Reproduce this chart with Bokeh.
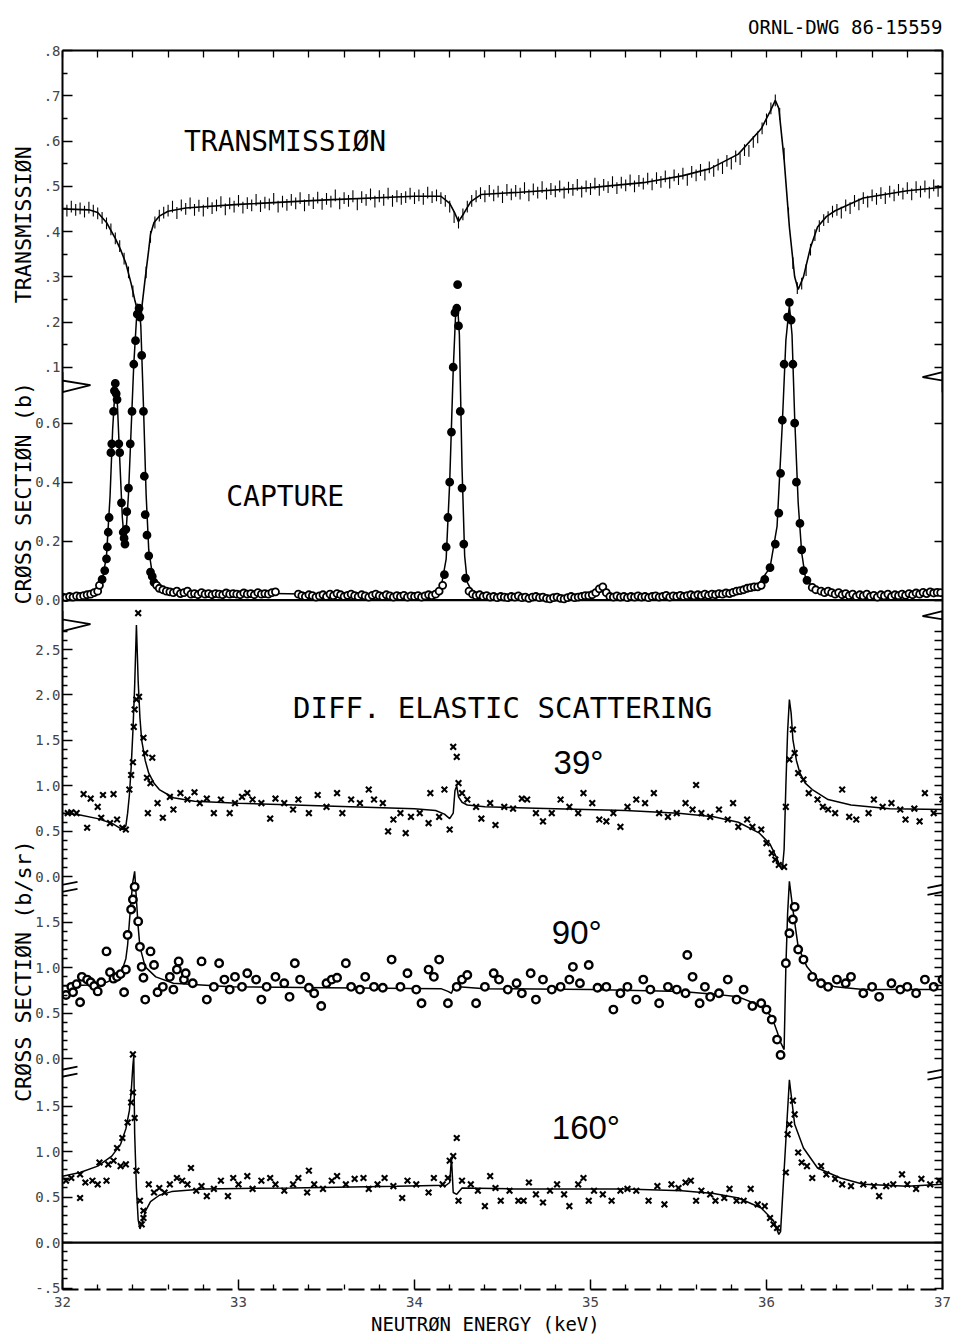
import numpy as np
from bokeh.plotting import figure
from bokeh.models import (Range1d, LinearAxis, FixedTicker, Label, PolyAnnotation, Title)
from bokeh.embed import file_html
from bokeh.resources import INLINE

# ====================== DATA ======================
# Transmission measurement (energy in keV, transmission)
E_T = [
    32.000, 32.025, 32.050, 32.075, 32.100, 32.125, 32.150, 32.175, 32.200, 32.225,
    32.250, 32.275, 32.300, 32.325, 32.350, 32.375, 32.400, 32.425, 32.450, 32.475,
    32.500, 32.525, 32.550, 32.575, 32.600, 32.625, 32.650, 32.675, 32.700, 32.725,
    32.750, 32.775, 32.800, 32.825, 32.850, 32.875, 32.900, 32.925, 32.950, 32.975,
    33.000, 33.025, 33.050, 33.075, 33.100, 33.125, 33.150, 33.175, 33.200, 33.225,
    33.250, 33.275, 33.300, 33.325, 33.350, 33.375, 33.400, 33.425, 33.450, 33.475,
    33.500, 33.525, 33.550, 33.575, 33.600, 33.625, 33.650, 33.675, 33.700, 33.725,
    33.750, 33.775, 33.800, 33.825, 33.850, 33.875, 33.900, 33.925, 33.950, 33.975,
    34.000, 34.025, 34.050, 34.075, 34.100, 34.125, 34.150, 34.175, 34.200, 34.225,
    34.250, 34.275, 34.300, 34.325, 34.350, 34.375, 34.400, 34.425, 34.450, 34.475,
    34.500, 34.525, 34.550, 34.575, 34.600, 34.625, 34.650, 34.675, 34.700, 34.725,
    34.750, 34.775, 34.800, 34.825, 34.850, 34.875, 34.900, 34.925, 34.950, 34.975,
    35.000, 35.025, 35.050, 35.075, 35.100, 35.125, 35.150, 35.175, 35.200, 35.225,
    35.250, 35.275, 35.300, 35.325, 35.350, 35.375, 35.400, 35.425, 35.450, 35.475,
    35.500, 35.525, 35.550, 35.575, 35.600, 35.625, 35.650, 35.675, 35.700, 35.725,
    35.750, 35.775, 35.800, 35.825, 35.850, 35.875, 35.900, 35.925, 35.950, 35.975,
    36.000, 36.025, 36.050, 36.075, 36.100, 36.125, 36.150, 36.175, 36.200, 36.225,
    36.250, 36.275, 36.300, 36.325, 36.350, 36.375, 36.400, 36.425, 36.450, 36.475,
    36.500, 36.525, 36.550, 36.575, 36.600, 36.625, 36.650, 36.675, 36.700, 36.725,
    36.750, 36.775, 36.800, 36.825, 36.850, 36.875, 36.900, 36.925, 36.950, 36.975,
    37.000,
]
T_DATA = [
    .452, .446, .455, .448, .451, .444, .453, .446, .440, .430,
    .418, .405, .385, .368, .340, .310, .268, .228, .222, .310,
    .388, .420, .435, .442, .446, .455, .441, .458, .450, .462,
    .448, .457, .446, .463, .452, .458, .465, .449, .462, .455,
    .468, .453, .463, .458, .470, .456, .464, .460, .472, .455,
    .466, .459, .470, .462, .474, .458, .470, .463, .475, .461,
    .472, .466, .480, .462, .474, .468, .478, .460, .476, .470,
    .482, .466, .478, .470, .484, .468, .478, .472, .476, .484,
    .474, .480, .472, .486, .476, .480, .474, .468, .455, .432,
    .420, .438, .455, .468, .478, .485, .478, .490, .480, .488,
    .476, .492, .482, .490, .484, .496, .480, .493, .486, .498,
    .484, .494, .489, .500, .486, .497, .492, .503, .488, .500,
    .494, .506, .492, .503, .498, .509, .496, .508, .502, .513,
    .500, .512, .506, .517, .504, .518, .510, .522, .508, .524,
    .516, .528, .514, .532, .524, .536, .526, .542, .534, .548,
    .540, .556, .550, .566, .560, .580, .578, .598, .608, .628,
    .648, .672, .690, .660, .572, .440, .330, .275, .285, .315,
    .360, .392, .412, .425, .432, .444, .448, .442, .458, .452,
    .468, .460, .474, .466, .480, .472, .485, .474, .488, .480,
    .492, .484, .496, .482, .498, .488, .500, .486, .502, .490,
    .500,
]
T_ERR = 0.013

T_FIT = [(32.00, .450), (32.15, .448), (32.20, .442), (32.25, .420), (32.30, .385),
         (32.33, .360), (32.36, .330), (32.39, .285), (32.41, .250), (32.43, .220),
         (32.44, .212), (32.45, .230), (32.47, .297), (32.49, .360), (32.50, .394),
         (32.52, .420), (32.55, .434), (32.60, .445), (32.70, .452), (33.00, .460),
         (33.50, .470), (34.00, .478), (34.15, .478), (34.20, .462), (34.23, .440),
         (34.25, .422), (34.28, .440), (34.32, .466), (34.38, .482), (34.60, .487),
         (35.00, .497), (35.30, .508), (35.52, .523), (35.68, .539), (35.84, .571),
         (35.97, .627), (36.02, .665), (36.05, .690), (36.07, .672), (36.10, .560),
         (36.13, .410), (36.16, .300), (36.18, .272), (36.21, .300), (36.25, .365),
         (36.29, .410), (36.34, .433), (36.39, .446), (36.55, .474), (36.80, .490),
         (37.00, .498)]

# Capture cross section (b)
CAP_DATA = [
    (32.00, .010), (32.02, .008), (32.04, .012), (32.06, .010), (32.08, .014), (32.10, .012),
    (32.12, .015), (32.14, .018), (32.16, .020), (32.18, .025), (32.20, .030), (32.21, .050),
    (32.225, .070), (32.24, .100), (32.25, .140), (32.255, .180), (32.26, .230), (32.265, .280),
    (32.275, .500), (32.28, .530), (32.29, .640), (32.295, .710), (32.30, .735), (32.305, .700),
    (32.31, .680), (32.32, .530), (32.325, .500), (32.335, .330), (32.345, .230), (32.35, .210),
    (32.355, .190), (32.36, .240), (32.365, .300), (32.375, .380), (32.385, .530), (32.395, .640),
    (32.405, .800), (32.415, .880), (32.425, .970), (32.435, .990), (32.44, .960), (32.45, .830),
    (32.46, .640), (32.465, .420), (32.47, .290), (32.48, .220), (32.49, .150), (32.50, .095),
    (32.51, .080), (32.52, .060), (32.535, .050), (32.55, .040), (32.57, .035), (32.59, .030),
    (32.61, .028), (32.63, .025), (32.65, .030), (32.67, .022), (32.69, .025), (32.71, .030),
    (32.73, .020), (32.75, .022), (32.77, .018), (32.79, .025), (32.81, .020), (32.83, .022),
    (32.85, .018), (32.87, .022), (32.89, .020), (32.91, .018), (32.93, .024), (32.95, .020),
    (32.97, .022), (32.99, .020), (33.01, .018), (33.03, .024), (33.05, .020), (33.07, .022),
    (33.09, .018), (33.11, .025), (33.13, .020), (33.15, .022), (33.17, .020), (33.19, .025),
    (33.21, .028),
    (33.34, .020), (33.36, .015), (33.38, .012), (33.40, .018), (33.42, .015), (33.44, .010),
    (33.46, .014), (33.48, .018), (33.50, .012), (33.52, .020), (33.54, .015), (33.56, .022),
    (33.58, .018), (33.60, .012), (33.62, .016), (33.64, .020), (33.66, .015), (33.68, .012),
    (33.70, .018), (33.72, .014), (33.74, .010), (33.76, .016), (33.78, .020), (33.80, .015),
    (33.82, .012), (33.84, .018), (33.86, .014), (33.88, .010), (33.90, .015), (33.92, .012),
    (33.94, .016), (33.96, .010), (33.98, .014), (34.00, .012), (34.02, .015), (34.04, .010),
    (34.06, .014), (34.08, .018), (34.10, .015), (34.12, .020), (34.14, .030), (34.16, .050),
    (34.17, .086), (34.18, .180), (34.19, .280), (34.20, .400), (34.21, .570), (34.22, .790),
    (34.23, .975), (34.24, .990), (34.245, 1.070), (34.25, .930), (34.26, .640), (34.27, .380),
    (34.28, .190), (34.29, .074), (34.31, .030), (34.33, .020), (34.35, .015), (34.37, .018),
    (34.39, .012), (34.41, .015), (34.43, .010), (34.45, .012), (34.47, .008), (34.49, .012),
    (34.51, .010), (34.53, .008), (34.55, .012), (34.57, .010), (34.59, .014), (34.61, .008),
    (34.63, .010), (34.65, .006), (34.67, .010), (34.69, .012), (34.71, .008), (34.73, .010),
    (34.75, .006), (34.77, .004), (34.79, .008), (34.81, .010), (34.83, .006), (34.85, .004),
    (34.87, .008), (34.89, .012), (34.91, .008), (34.93, .010), (34.95, .012), (34.97, .015),
    (34.99, .015), (35.01, .018), (35.03, .025), (35.05, .038), (35.07, .045), (35.09, .025),
    (35.11, .012), (35.13, .010), (35.15, .014), (35.17, .010), (35.19, .012), (35.21, .008),
    (35.23, .012), (35.25, .010), (35.27, .014), (35.29, .010), (35.31, .012), (35.33, .008),
    (35.35, .012), (35.37, .014), (35.39, .010), (35.41, .012), (35.43, .016), (35.45, .010),
    (35.47, .014), (35.49, .012), (35.51, .016), (35.53, .012), (35.55, .015), (35.57, .018),
    (35.59, .014), (35.61, .018), (35.63, .015), (35.65, .020), (35.67, .016), (35.69, .020),
    (35.71, .018), (35.73, .022), (35.75, .020), (35.77, .024), (35.79, .022), (35.81, .026),
    (35.83, .030), (35.85, .032), (35.87, .035), (35.89, .040), (35.91, .042), (35.93, .045),
    (35.95, .045), (35.97, .050), (35.99, .070), (36.02, .110), (36.05, .190), (36.07, .295),
    (36.08, .430), (36.09, .610), (36.10, .800), (36.12, .960), (36.13, 1.010), (36.14, .950),
    (36.15, .800), (36.16, .600), (36.17, .400), (36.19, .260), (36.20, .170), (36.21, .100),
    (36.23, .067), (36.26, .043), (36.28, .035), (36.31, .030), (36.33, .025), (36.35, .030),
    (36.37, .025), (36.39, .020), (36.41, .025), (36.43, .018), (36.45, .022), (36.47, .015),
    (36.49, .020), (36.51, .012), (36.53, .018), (36.55, .014), (36.57, .020), (36.59, .012),
    (36.61, .016), (36.63, .010), (36.65, .018), (36.67, .014), (36.69, .020), (36.71, .012),
    (36.73, .018), (36.75, .015), (36.77, .020), (36.79, .016), (36.81, .022), (36.83, .018),
    (36.85, .024), (36.87, .020), (36.89, .026), (36.91, .022), (36.93, .028), (36.95, .024),
    (36.97, .026), (36.99, .025),
]
CAP_FIT = [(32.00, .010), (32.10, .012), (32.16, .020), (32.20, .030), (32.23, .080),
           (32.25, .150), (32.27, .350), (32.285, .580), (32.30, .730), (32.31, .690),
           (32.325, .480), (32.34, .280), (32.35, .210), (32.36, .220), (32.375, .360),
           (32.39, .580), (32.405, .800), (32.42, .950), (32.435, 1.000), (32.445, .930),
           (32.46, .660), (32.475, .360), (32.49, .170), (32.51, .090), (32.54, .050),
           (32.60, .032), (32.80, .024), (33.20, .022), (33.60, .018), (34.00, .015),
           (34.10, .020), (34.15, .040), (34.18, .140), (34.20, .400), (34.22, .780),
           (34.235, .990), (34.245, 1.000), (34.255, .900), (34.27, .450), (34.285, .150),
           (34.30, .060), (34.33, .025), (34.40, .015), (34.90, .010), (35.00, .015),
           (35.04, .030), (35.07, .045), (35.09, .030), (35.11, .014), (35.50, .014),
           (35.80, .025), (35.95, .050), (36.02, .110), (36.06, .250), (36.09, .600),
           (36.11, .880), (36.13, 1.000), (36.145, .900), (36.16, .620), (36.18, .330),
           (36.20, .160), (36.22, .080), (36.26, .043), (36.32, .030), (36.60, .020),
           (37.00, .022)]

# Differential elastic scattering (b/sr), 39 degrees
S39_DATA = [
    (32.03, .70), (32.05, .71), (32.08, .70), (32.12, .91), (32.14, .54), (32.16, .86),
    (32.20, .77), (32.22, .65), (32.23, .90), (32.27, .59), (32.29, .91), (32.31, .63),
    (32.34, .54), (32.36, .52), (32.38, .96), (32.39, 1.12), (32.40, 1.26), (32.405, 1.65),
    (32.41, 1.84), (32.42, 1.95), (32.43, 2.90), (32.435, 1.98), (32.46, 1.53), (32.47, 1.36),
    (32.48, 1.09), (32.485, .70), (32.50, 1.03), (32.51, 1.31), (32.54, .81), (32.57, .65),
    (32.61, .88), (32.63, .74), (32.67, .92), (32.71, .85), (32.75, .93), (32.78, .81),
    (32.82, .86), (32.86, .70), (32.90, .85), (32.95, .70), (32.98, .81), (33.02, .88),
    (33.05, .92), (33.08, .85), (33.13, .81), (33.18, .64), (33.21, .86), (33.26, .81),
    (33.31, .74), (33.34, .85), (33.40, .70), (33.45, .90), (33.50, .77), (33.56, .92),
    (33.59, .70), (33.64, .85), (33.69, .81), (33.74, .96), (33.77, .85), (33.82, .81),
    (33.85, .50), (33.88, .63), (33.92, .70), (33.95, .48), (33.98, .66), (34.03, .70),
    (34.08, .59), (34.09, .92), (34.14, .66), (34.17, .96), (34.20, .52), (34.22, 1.43),
    (34.24, 1.32), (34.25, 1.03), (34.27, .92), (34.30, .85), (34.35, .77), (34.38, .64),
    (34.43, .81), (34.46, .57), (34.51, .77), (34.56, .75), (34.61, .86), (34.64, .85),
    (34.69, .70), (34.73, .61), (34.78, .70), (34.83, .85), (34.88, .77), (34.93, .70),
    (34.96, .92), (35.01, .81), (35.05, .63), (35.09, .61), (35.13, .70), (35.17, .55),
    (35.21, .77), (35.26, .85), (35.31, .81), (35.36, .92), (35.39, .70), (35.44, .66),
    (35.49, .70), (35.54, .81), (35.58, .74), (35.60, 1.01), (35.63, .70), (35.68, .66),
    (35.73, .74), (35.78, .63), (35.81, .81), (35.84, .55), (35.89, .63), (35.92, .55),
    (35.97, .52), (36.00, .37), (36.03, .26), (36.05, .19), (36.07, .13), (36.10, .11),
    (36.11, .77), (36.13, 1.29), (36.15, 1.62), (36.16, 1.36), (36.18, 1.14), (36.21, 1.07),
    (36.24, .92), (36.29, .85), (36.32, .77), (36.35, .74), (36.39, .70), (36.43, .96),
    (36.47, .66), (36.51, .63), (36.58, .70), (36.61, .85), (36.66, .77), (36.71, .81),
    (36.76, .74), (36.79, .63), (36.84, .75), (36.87, .61), (36.90, .92), (36.95, .70),
    (37.00, .85),
]
S39_FIT = [(32.00, .70), (32.10, .68), (32.20, .64), (32.28, .59), (32.34, .52), (32.36, .56),
           (32.37, .70), (32.38, .90), (32.39, 1.20), (32.40, 1.60), (32.41, 2.10), (32.42, 2.77),
           (32.43, 2.15), (32.44, 1.75), (32.45, 1.50), (32.47, 1.28), (32.49, 1.14), (32.52, 1.03),
           (32.55, .96), (32.63, .87), (32.75, .83), (33.00, .81), (33.50, .78), (34.00, .75),
           (34.12, .73), (34.17, .69), (34.20, .64), (34.22, .70), (34.23, .95), (34.24, 1.00),
           (34.25, .88), (34.27, .82), (34.30, .79), (34.40, .77), (34.80, .75), (35.20, .73),
           (35.50, .70), (35.70, .66), (35.84, .60), (35.96, .48), (36.02, .36), (36.06, .20),
           (36.08, .10), (36.09, .08), (36.10, .30), (36.11, 1.00), (36.12, 1.60), (36.13, 1.95),
           (36.14, 1.80), (36.15, 1.51), (36.17, 1.28), (36.19, 1.14), (36.22, 1.03), (36.26, .96),
           (36.35, .85), (36.48, .79), (36.70, .75), (37.00, .74)]

# 90 degrees
S90_DATA = [
    (32.02, .70), (32.05, .79), (32.06, .73), (32.08, .82), (32.10, .62), (32.11, .90),
    (32.14, .87), (32.16, .84), (32.18, .80), (32.20, .74), (32.22, .84), (32.25, 1.18),
    (32.27, .95), (32.29, .88), (32.31, .90), (32.33, .93), (32.35, .73), (32.36, .98),
    (32.37, 1.36), (32.39, 1.64), (32.40, 1.75), (32.41, 1.89), (32.43, 1.51), (32.44, 1.23),
    (32.45, 1.01), (32.46, .89), (32.47, .65), (32.50, 1.18), (32.52, 1.03), (32.54, .73),
    (32.57, .79), (32.61, .90), (32.63, .76), (32.65, .98), (32.66, 1.07), (32.69, .87),
    (32.70, .94), (32.74, .83), (32.79, 1.07), (32.82, .65), (32.86, .79), (32.89, 1.05),
    (32.92, .87), (32.95, .76), (32.98, .90), (33.02, .79), (33.05, .94), (33.10, .87),
    (33.13, .65), (33.16, .79), (33.21, .90), (33.26, .83), (33.29, .68), (33.32, 1.05),
    (33.35, .87), (33.40, .78), (33.43, .72), (33.47, .58), (33.50, .83), (33.53, .87),
    (33.56, .89), (33.61, 1.05), (33.64, .79), (33.69, .76), (33.72, .90), (33.77, .79),
    (33.82, .78), (33.87, 1.09), (33.92, .79), (33.96, .94), (34.01, .76), (34.04, .61),
    (34.08, .98), (34.11, .90), (34.14, 1.09), (34.19, .61), (34.24, .79), (34.27, .87),
    (34.30, .92), (34.35, .61), (34.40, .79), (34.45, .94), (34.48, .87), (34.53, .76),
    (34.58, .83), (34.61, .72), (34.66, .94), (34.69, .65), (34.73, .87), (34.78, .76),
    (34.83, .79), (34.88, .87), (34.90, 1.01), (34.94, .83), (34.99, 1.03), (35.04, .78),
    (35.09, .79), (35.13, .54), (35.17, .72), (35.21, .79), (35.26, .65), (35.30, .87),
    (35.34, .76), (35.39, .61), (35.44, .79), (35.49, .76), (35.54, .72), (35.55, 1.14),
    (35.58, .90), (35.62, .61), (35.65, .79), (35.68, .68), (35.73, .72), (35.78, .87),
    (35.83, .65), (35.87, .76), (35.92, .58), (35.97, .61), (36.00, .54), (36.03, .43),
    (36.06, .21), (36.08, .04), (36.11, 1.05), (36.13, 1.38), (36.15, 1.53), (36.16, 1.67),
    (36.18, 1.20), (36.21, 1.09), (36.26, .90), (36.31, .83), (36.35, .79), (36.40, .87),
    (36.45, .83), (36.48, .90), (36.55, .72), (36.60, .79), (36.64, .68), (36.71, .83),
    (36.76, .76), (36.80, .79), (36.85, .72), (36.90, .87), (36.95, .79), (37.00, .87),
]
S90_FIT = [(32.00, .80), (32.15, .81), (32.25, .84), (32.31, .90), (32.34, .98), (32.36, 1.10),
           (32.37, 1.25), (32.38, 1.50), (32.39, 1.75), (32.40, 1.95), (32.41, 2.06), (32.42, 1.75),
           (32.43, 1.45), (32.44, 1.23), (32.47, 1.01), (32.53, .90), (32.63, .83), (32.95, .79),
           (33.50, .78), (34.15, .77), (34.19, .74), (34.21, .72), (34.23, .82), (34.25, .79),
           (34.40, .77), (35.00, .76), (35.52, .74), (35.70, .71), (35.84, .68), (35.97, .58),
           (36.03, .46), (36.06, .30), (36.08, .18), (36.10, .10), (36.11, 1.01), (36.12, 1.60),
           (36.13, 1.95), (36.15, 1.64), (36.18, 1.23), (36.23, 1.01), (36.29, .87), (36.39, .79),
           (36.55, .76), (37.00, .76)]

# 160 degrees
S160_DATA = [
    (32.02, .68), (32.05, .71), (32.10, .75), (32.10, .49), (32.13, .66), (32.17, .68),
    (32.20, .64), (32.21, .88), (32.25, .68), (32.26, .86), (32.29, .90), (32.31, 1.04),
    (32.33, .84), (32.34, 1.15), (32.36, .86), (32.37, 1.32), (32.39, 1.54), (32.40, 1.65),
    (32.41, 1.37), (32.40, 2.07), (32.42, .79), (32.44, .46), (32.45, .20), (32.46, .35),
    (32.46, .27), (32.49, .64), (32.52, .55), (32.55, .60), (32.58, .55), (32.61, .64),
    (32.65, .71), (32.68, .68), (32.71, .64), (32.73, .82), (32.76, .57), (32.79, .62),
    (32.82, .51), (32.86, .59), (32.90, .68), (32.94, .51), (32.97, .71), (33.00, .64),
    (33.05, .73), (33.08, .59), (33.13, .68), (33.18, .71), (33.21, .64), (33.26, .57),
    (33.31, .64), (33.34, .71), (33.39, .55), (33.40, .79), (33.43, .64), (33.48, .59),
    (33.53, .68), (33.56, .73), (33.61, .64), (33.66, .70), (33.71, .71), (33.74, .59),
    (33.79, .64), (33.83, .71), (33.88, .62), (33.93, .49), (33.96, .68), (34.01, .64),
    (34.08, .55), (34.11, .71), (34.16, .64), (34.19, .71), (34.20, .90), (34.22, .95),
    (34.24, 1.15), (34.25, .46), (34.27, .68), (34.32, .64), (34.36, .57), (34.40, .40),
    (34.43, .73), (34.46, .60), (34.49, .46), (34.54, .57), (34.59, .46), (34.62, .46),
    (34.65, .66), (34.69, .53), (34.73, .44), (34.77, .57), (34.81, .64), (34.85, .53),
    (34.88, .40), (34.93, .64), (34.96, .71), (34.99, .46), (35.02, .57), (35.07, .53),
    (35.12, .46), (35.17, .57), (35.21, .59), (35.26, .57), (35.33, .46), (35.38, .62),
    (35.42, .42), (35.46, .64), (35.50, .60), (35.54, .66), (35.57, .68), (35.60, .46),
    (35.63, .57), (35.68, .53), (35.71, .46), (35.76, .49), (35.79, .59), (35.83, .46),
    (35.87, .46), (35.91, .59), (35.95, .42), (35.99, .40), (36.02, .27), (36.04, .20),
    (36.06, .16), (36.11, .77), (36.12, 1.19), (36.13, 1.30), (36.15, 1.56), (36.16, 1.41),
    (36.18, .99), (36.20, .88), (36.23, .84), (36.26, .71), (36.31, .84), (36.34, .75),
    (36.39, .70), (36.43, .64), (36.48, .62), (36.55, .64), (36.61, .62), (36.64, .51),
    (36.68, .62), (36.72, .64), (36.77, .75), (36.80, .64), (36.85, .59), (36.88, .70),
    (36.93, .64), (36.98, .68),
]
S160_FIT = [(32.00, .73), (32.10, .77), (32.20, .84), (32.28, .95), (32.33, 1.08), (32.36, 1.25),
            (32.38, 1.45), (32.39, 1.65), (32.40, 1.95), (32.405, 2.05), (32.41, 1.20), (32.42, .60),
            (32.43, .25), (32.44, .15), (32.45, .20), (32.47, .34), (32.50, .45), (32.55, .52),
            (32.62, .56), (32.80, .59), (33.30, .60), (33.90, .62), (34.18, .63), (34.20, .66),
            (34.21, .93), (34.22, .55), (34.24, .53), (34.27, .60), (34.56, .59), (35.20, .59),
            (35.52, .57), (35.70, .54), (35.84, .49), (35.97, .38), (36.04, .24), (36.07, .09),
            (36.08, .12), (36.10, .79), (36.13, 1.79), (36.16, 1.30), (36.21, 1.04), (36.29, .82),
            (36.42, .71), (36.55, .64), (36.80, .62), (37.00, .64)]

ZERO_E = [32.0, 37.0]
ZERO_V = [0.0, 0.0]

# ---- tick values / labels ----
X_TICKS = [32, 33, 34, 35, 36, 37]
X_MINOR = [32.2, 32.4, 32.6, 32.8, 33.2, 33.4, 33.6, 33.8, 34.2, 34.4, 34.6, 34.8,
           35.2, 35.4, 35.6, 35.8, 36.2, 36.4, 36.6, 36.8]
T_TICKS = [0.1, 0.2, 0.3, 0.4, 0.5, 0.6, 0.7, 0.8]
T_LABELS = [".1", ".2", ".3", ".4", ".5", ".6", ".7", ".8"]
T_MINOR = [0.15, 0.25, 0.35, 0.45, 0.55, 0.65, 0.75]
CAP_TICKS = [0.0, 0.2, 0.4, 0.6]
CAP_LABELS = ["0.0", "0.2", "0.4", "0.6"]
CAP_MINOR = []
S39_TICKS = [0.0, 0.5, 1.0, 1.5, 2.0, 2.5]
S39_LABELS = ["0.0", "0.5", "1.0", "1.5", "2.0", "2.5"]
S39_MINOR = [0.1, 0.2, 0.3, 0.4, 0.6, 0.7, 0.8, 0.9, 1.1, 1.2, 1.3, 1.4, 1.6, 1.7, 1.8, 1.9,
             2.1, 2.2, 2.3, 2.4, 2.6, 2.7]
S90_TICKS = [0.0, 0.5, 1.0, 1.5]
S90_LABELS = ["0.0", "0.5", "1.0", "1.5"]
S90_MINOR = [0.1, 0.2, 0.3, 0.4, 0.6, 0.7, 0.8, 0.9, 1.1, 1.2, 1.3, 1.4, 1.6, 1.7, 1.8]
S160_TICKS = [-0.5, 0.0, 0.5, 1.0, 1.5]
S160_LABELS = ["-.5", "0.0", "0.5", "1.0", "1.5"]
S160_MINOR = [-0.4, -0.3, -0.2, -0.1, 0.1, 0.2, 0.3, 0.4, 0.6, 0.7, 0.8, 0.9, 1.1, 1.2,
              1.3, 1.4, 1.6, 1.7]

# ---- texts ----
DWG_TEXT = "ORNL-DWG 86-15559"
X_TITLE = "NEUTRØN ENERGY (keV)"
Y_TITLES = ["CRØSS SECTIØN (b/sr)", "CRØSS SECTIØN (b)", "TRANSMISSIØN"]  # bottom to top

# ====================== LAYOUT ======================
W, H = 970, 1335
FRAME_L, FRAME_R, FRAME_T, FRAME_B = 62, 942, 50, 1290
PX_PER_KEV = (FRAME_R - FRAME_L) / 5.0
# each panel: (row of value zero, pixels per unit) on the layout row scale
PANEL = {"trans": (412.4, 453.0), "cap": (600.0, 295.0), "s39": (877.0, 91.0),
         "s90": (1059.0, 91.0), "s160": (1243.0, 91.0)}


def prow(name, v):
    z, k = PANEL[name]
    return round(z - v * k, 2)


MONO = "DejaVu Sans Mono"
SANS = "Liberation Sans"
INK = "black"
NBSP = "\u00a0"

p = figure(width=W, height=H, output_backend="svg", toolbar_location=None,
           x_range=Range1d(32, 37), y_range=Range1d(FRAME_B, FRAME_T),
           x_axis_type=None, y_axis_type=None,
           min_border_left=FRAME_L, min_border_right=W - FRAME_R,
           min_border_top=FRAME_T, min_border_bottom=H - FRAME_B)
p.outline_line_color = None
p.background_fill_color = "white"
p.border_fill_color = "white"

for name, (z, k) in PANEL.items():
    p.extra_y_ranges[name] = Range1d(start=(z - FRAME_B) / k, end=(z - FRAME_T) / k)


def style_axis(ax):
    ax.major_tick_in = 10
    ax.major_tick_out = 0
    ax.minor_tick_in = 5
    ax.minor_tick_out = 0
    ax.axis_line_width = 2
    ax.major_tick_line_width = 1.5
    ax.minor_tick_line_width = 1.3
    ax.major_label_text_font = MONO


# ---- x axes ----
ax_b = LinearAxis(ticker=FixedTicker(ticks=X_TICKS, minor_ticks=X_MINOR))
style_axis(ax_b)
ax_b.major_label_text_font_size = "14px"
ax_b.major_label_standoff = 7
ax_b.axis_line_dash = "16 6"
p.add_layout(ax_b, "below")

ax_t = LinearAxis(ticker=FixedTicker(ticks=[], minor_ticks=X_TICKS + X_MINOR))
style_axis(ax_t)
ax_t.minor_tick_in = 7
p.add_layout(ax_t, "above")

# ---- y axes ----
major_rows, minor_rows, overrides = [], [], {}
for name, ticks, labels, minors in [("trans", T_TICKS, T_LABELS, T_MINOR),
                                    ("cap", CAP_TICKS, CAP_LABELS, CAP_MINOR),
                                    ("s39", S39_TICKS, S39_LABELS, S39_MINOR),
                                    ("s90", S90_TICKS, S90_LABELS, S90_MINOR),
                                    ("s160", S160_TICKS, S160_LABELS, S160_MINOR)]:
    for v, lab in zip(ticks, labels):
        r = prow(name, v)
        major_rows.append(r)
        overrides[r] = lab
    for v in minors:
        minor_rows.append(prow(name, v))

ay_l = LinearAxis(ticker=FixedTicker(ticks=major_rows, minor_ticks=minor_rows))
style_axis(ay_l)
ay_l.major_label_text_font_size = "14px"
ay_l.major_label_standoff = 2
ay_l.major_label_overrides = overrides
# the three vertical titles share one column, placed bottom-to-top along the frame
ay_l.axis_label = (NBSP * 7 + Y_TITLES[0] + NBSP * 18 + Y_TITLES[1] + NBSP * 6
                   + Y_TITLES[2])
ay_l.axis_label_text_font = MONO
ay_l.axis_label_text_font_size = "21.75px"
ay_l.axis_label_text_font_style = "normal"
ay_l.axis_label_text_color = INK
ay_l.axis_label_standoff = -4
p.add_layout(ay_l, "left")

ay_r = LinearAxis(ticker=FixedTicker(ticks=[], minor_ticks=major_rows + minor_rows))
style_axis(ay_r)
ay_r.minor_tick_in = 8
p.add_layout(ay_r, "right")

# ---- titles outside the frame ----
p.title.text = DWG_TEXT
p.title.align = "right"
p.title.text_font = MONO
p.title.text_font_size = "19px"
p.title.text_font_style = "normal"
p.title.text_color = INK
p.title.standoff = 26

p.add_layout(Title(text=X_TITLE + NBSP * 3, align="center", text_font=MONO,
                   text_font_size="19px", text_font_style="normal",
                   text_color=INK, standoff=2), "below")

# ---- data glyphs ----
def unzip(pairs):
    return [a for a, _ in pairs], [b for _, b in pairs]


# transmission
t_arr = np.array(T_DATA)
p.segment(x0=E_T, y0=list(t_arr - T_ERR), x1=E_T, y1=list(t_arr + T_ERR),
          line_color=INK, line_width=1.1, y_range_name="trans")
ex, ey = unzip(T_FIT)
p.line(ex, ey, line_color=INK, line_width=1.6, y_range_name="trans")

# capture
p.line(ZERO_E, ZERO_V, line_color=INK, line_width=2.2, y_range_name="cap")
ex, ey = unzip(CAP_FIT)
p.line(ex, ey, line_color=INK, line_width=1.5, y_range_name="cap")
ex, ey = unzip(CAP_DATA)
cap_fill = [INK if v > 0.05 else "white" for v in ey]
p.scatter(ex, ey, marker="circle", size=7, line_color=INK, line_width=1.8,
          fill_color=cap_fill, y_range_name="cap")

# 39 deg
ex, ey = unzip(S39_FIT)
p.line(ex, ey, line_color=INK, line_width=1.5, y_range_name="s39")
ex, ey = unzip(S39_DATA)
p.scatter(ex, ey, marker="x", size=8, line_color=INK, line_width=2.1, y_range_name="s39")

# 90 deg
ex, ey = unzip(S90_FIT)
p.line(ex, ey, line_color=INK, line_width=1.5, y_range_name="s90")
ex, ey = unzip(S90_DATA)
p.scatter(ex, ey, marker="circle", size=7.5, line_color=INK, line_width=2.4,
          fill_color="white", y_range_name="s90")

# 160 deg
p.line(ZERO_E, ZERO_V, line_color=INK, line_width=2.2, y_range_name="s160")
ex, ey = unzip(S160_FIT)
p.line(ex, ey, line_color=INK, line_width=1.5, y_range_name="s160")
ex, ey = unzip(S160_DATA)
p.scatter(ex, ey, marker="x", size=8, line_color=INK, line_width=2.1, y_range_name="s160")


# ---- axis break marks (decoration, in layout rows) ----
def kev(px_off, side):
    return (32.0 if side == "L" else 37.0) + px_off / PX_PER_KEV


ZIG = [(0, 0), (-20, 5), (28, 13), (0, 20)]
for base in (372, 611):
    for side in ("L", "R"):
        p.add_layout(PolyAnnotation(xs=[kev(dx, side) for dx, _ in ZIG],
                                    ys=[base + dy for _, dy in ZIG],
                                    fill_color=None, fill_alpha=0,
                                    line_color=INK, line_alpha=1.0, line_width=1.8))
SLASHES = [[(-15, 3), (15, -3)], [(-15, 10), (15, 4)]]
for base in (885, 1070):
    for side in ("L", "R"):
        for (x0, y0), (x1, y1) in SLASHES:
            p.add_layout(PolyAnnotation(xs=[kev(x0, side), kev(x1, side), kev(x0, side)],
                                        ys=[base + y0, base + y1, base + y0],
                                        fill_color=None, fill_alpha=0,
                                        line_color=INK, line_alpha=1.0, line_width=1.8))


# ---- texts inside the frame ----
def add_label(text, x, y, font, size):
    p.add_layout(Label(x=x, y=y, text=text, text_font=font, text_font_size=size,
                       text_align="left", text_baseline="middle", text_color=INK))


add_label("TRANSMISSIØN", 32.69, 141, MONO, "28px")
add_label("CAPTURE", 32.93, 496, MONO, "28px")
add_label("DIFF. ELASTIC SCATTERING", 33.31, 708, MONO, "29px")
add_label("39°", 34.79, 763, SANS, "33px")
add_label("90°", 34.78, 933, SANS, "33px")
add_label("160°", 34.78, 1128, SANS, "33px")

open("out.html", "w").write(file_html(p, INLINE))
